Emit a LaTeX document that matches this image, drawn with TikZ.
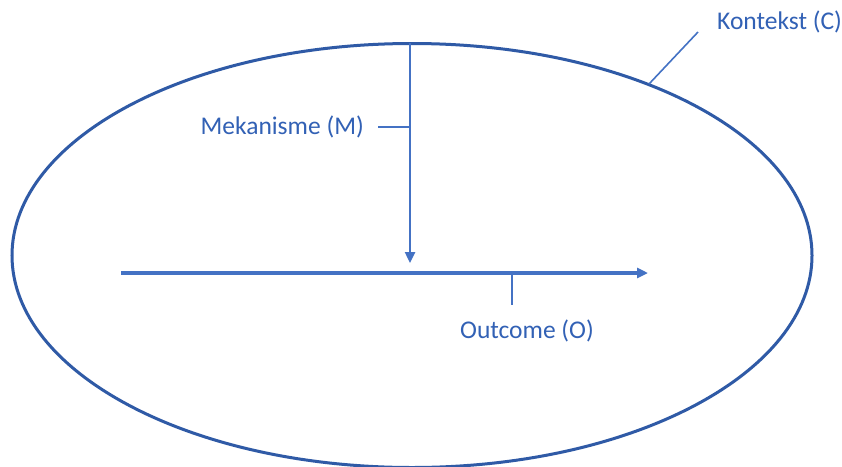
\documentclass[tikz,border=0pt]{standalone}
\usepackage{fontspec}
\setmainfont{Carlito}
\usetikzlibrary{arrows.meta,shapes.geometric}
\definecolor{ellblue}{HTML}{2F5AA6}
\definecolor{arrblue}{HTML}{4472C4}
\definecolor{txtblue}{HTML}{3261B5}
\begin{document}
\begin{tikzpicture}[x=1pt,y=-1pt,
  lbl/.style={text=txtblue,font=\fontsize{25.5}{30}\selectfont,inner sep=0pt},
  leader/.style={draw=arrblue,line width=1.6pt},
  flow/.style={draw=arrblue,-{Triangle[length=11pt,width=10pt]}}]
\useasboundingbox (0,0) rectangle (842,466);
\fill[white] (0,0) rectangle (842,466);
\node[draw=ellblue,line width=3pt,ellipse,minimum width=800pt,minimum height=424pt,inner sep=0pt] (ctx) at (412,255.5) {};
\coordinate (hs) at (121,273);
\coordinate (he) at (648,273);
\draw[flow,line width=3.4pt] (hs) -- (he);
\coordinate (vs) at (410,43);
\coordinate (ve) at (410,263);
\draw[flow,line width=2.4pt] (vs) -- (ve);
\node[lbl,anchor=east] (mek) at (364,127) {Mekanisme (M)};
\coordinate (mj) at (410,127);
\draw[leader] ([xshift=14pt]mek.east) -- (mj);
\node[lbl] (out) at (527,331) {Outcome (O)};
\coordinate (ot) at (512,275);
\draw[leader] (ot) -- (512,305);
\node[lbl,anchor=west] (kon) at (717,22) {Kontekst (C)};
\coordinate (ka) at (698,32);
\coordinate (kb) at (649,84);
\draw[leader] (ka) -- (kb);
\end{tikzpicture}
\end{document}
